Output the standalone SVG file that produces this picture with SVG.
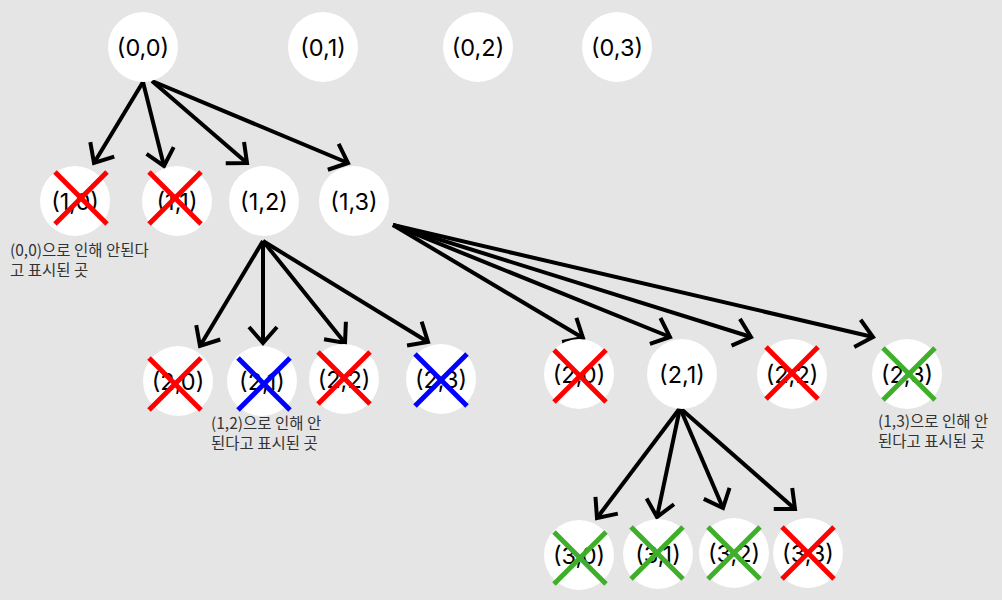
<svg xmlns="http://www.w3.org/2000/svg" width="1002" height="600" viewBox="0 0 1002 600">
<style>
.node circle{fill:#fff}
.node text{font-family:Inter,"Noto Sans","Noto Sans CJK KR",sans-serif;font-size:23.5px;fill:#000;text-anchor:middle;dominant-baseline:central}
.x line{stroke-width:5;stroke-linecap:butt}
.red line{stroke:#ff0000}
.blue line{stroke:#0000ff}
.green line{stroke:#3fae2a}
.edges line{stroke:#000;stroke-width:4;marker-end:url(#arr)}
.note{font-family:"Noto Sans CJK KR","Noto Sans",sans-serif;font-size:15.5px;fill:#333}
</style>
<defs>
<marker id="arr" markerUnits="userSpaceOnUse" viewBox="-22 -22 44 44" markerWidth="44" markerHeight="44" refX="0" refY="0" orient="auto" overflow="visible">
<path d="M-16,-14 L0,0 L-16,14" fill="none" stroke="#000" stroke-width="4" stroke-linejoin="miter"/>
</marker>
</defs>
<rect width="1002" height="600" fill="#e5e5e5"/>

<g class="edges" id="connectors">
<line x1="143" y1="82" x2="94" y2="163"/>
<line x1="143" y1="82" x2="164" y2="166"/>
<line x1="152" y1="81" x2="247" y2="163"/>
<line x1="152" y1="81" x2="348" y2="163"/>
<line x1="263" y1="241" x2="200" y2="346"/>
<line x1="263" y1="241" x2="263" y2="343"/>
<line x1="263" y1="241" x2="345" y2="343"/>
<line x1="263" y1="241" x2="428" y2="342"/>
<line x1="393" y1="225" x2="583" y2="338"/>
<line x1="393" y1="225" x2="670" y2="337"/>
<line x1="393" y1="225" x2="751" y2="337"/>
<line x1="393" y1="225" x2="873" y2="337"/>
<line x1="680" y1="408" x2="597" y2="518"/>
<line x1="680" y1="408" x2="657" y2="517"/>
<line x1="680" y1="408" x2="723" y2="508"/>
<line x1="680" y1="408" x2="795" y2="509"/>
</g>

<g class="node" id="n00"><circle cx="143" cy="47" r="35"/><text x="143" y="47">(0,0)</text></g>
<g class="node" id="n01"><circle cx="323" cy="47" r="35"/><text x="323" y="47">(0,1)</text></g>
<g class="node" id="n02"><circle cx="478" cy="47" r="35"/><text x="478" y="47">(0,2)</text></g>
<g class="node" id="n03"><circle cx="617" cy="47" r="35"/><text x="617" y="47">(0,3)</text></g>

<g class="node" id="n10"><circle cx="75" cy="201" r="35"/><text x="75" y="201">(1,0)</text>
<g class="x red"><line x1="55" y1="172" x2="107" y2="224"/><line x1="107" y1="172" x2="55" y2="224"/></g></g>
<g class="node" id="n11"><circle cx="177" cy="201" r="35"/><text x="177" y="201">(1,1)</text>
<g class="x red"><line x1="149" y1="172" x2="201" y2="224"/><line x1="201" y1="172" x2="149" y2="224"/></g></g>
<g class="node" id="n12"><circle cx="264" cy="201" r="35"/><text x="264" y="201">(1,2)</text></g>
<g class="node" id="n13"><circle cx="354" cy="201" r="35"/><text x="354" y="201">(1,3)</text></g>

<g class="node" id="n12_20"><circle cx="178" cy="381" r="35"/><text x="178" y="381">(2,0)</text>
<g class="x red"><line x1="149" y1="358" x2="201" y2="410"/><line x1="201" y1="358" x2="149" y2="410"/></g></g>
<g class="node" id="n12_21"><circle cx="262" cy="381" r="35"/><text x="262" y="381">(2,1)</text>
<g class="x blue"><line x1="238" y1="358" x2="290" y2="410"/><line x1="290" y1="358" x2="238" y2="410"/></g></g>
<g class="node" id="n12_22"><circle cx="344" cy="379" r="35"/><text x="344" y="379">(2,2)</text>
<g class="x red"><line x1="318" y1="352" x2="370" y2="404"/><line x1="370" y1="352" x2="318" y2="404"/></g></g>
<g class="node" id="n12_23"><circle cx="441" cy="379" r="35"/><text x="441" y="379">(2,3)</text>
<g class="x blue"><line x1="415" y1="354" x2="467" y2="406"/><line x1="467" y1="354" x2="415" y2="406"/></g></g>

<g class="node" id="n13_20"><circle cx="579" cy="374" r="35"/><text x="579" y="374">(2,0)</text>
<g class="x red"><line x1="554" y1="350" x2="606" y2="402"/><line x1="606" y1="350" x2="554" y2="402"/></g></g>
<g class="node" id="n13_21"><circle cx="682" cy="374" r="35"/><text x="682" y="374">(2,1)</text></g>
<g class="node" id="n13_22"><circle cx="792" cy="374" r="35"/><text x="792" y="374">(2,2)</text>
<g class="x red"><line x1="766" y1="347" x2="818" y2="399"/><line x1="818" y1="347" x2="766" y2="399"/></g></g>
<g class="node" id="n13_23"><circle cx="907" cy="374" r="35"/><text x="907" y="374">(2,3)</text>
<g class="x green"><line x1="883" y1="348" x2="935" y2="400"/><line x1="935" y1="348" x2="883" y2="400"/></g></g>

<g class="node" id="n30"><circle cx="579" cy="555" r="35"/><text x="579" y="555">(3,0)</text>
<g class="x green"><line x1="554" y1="532" x2="606" y2="584"/><line x1="606" y1="532" x2="554" y2="584"/></g></g>
<g class="node" id="n31"><circle cx="658" cy="554" r="35"/><text x="658" y="554">(3,1)</text>
<g class="x green"><line x1="631" y1="527" x2="683" y2="579"/><line x1="683" y1="527" x2="631" y2="579"/></g></g>
<g class="node" id="n32"><circle cx="734" cy="553" r="35"/><text x="734" y="553">(3,2)</text>
<g class="x green"><line x1="708" y1="527" x2="760" y2="579"/><line x1="760" y1="527" x2="708" y2="579"/></g></g>
<g class="node" id="n33"><circle cx="808" cy="553" r="35"/><text x="808" y="553">(3,3)</text>
<g class="x red"><line x1="782" y1="527" x2="834" y2="579"/><line x1="834" y1="527" x2="782" y2="579"/></g></g>

<g id="notes">
<text class="note" x="10" y="256"><tspan x="10">(0,0)으로 인해 안된다</tspan><tspan x="10" dy="20">고 표시된 곳</tspan></text>
<text class="note" x="211" y="429"><tspan x="211">(1,2)으로 인해 안</tspan><tspan x="211" dy="20">된다고 표시된 곳</tspan></text>
<text class="note" x="878" y="427"><tspan x="878">(1,3)으로 인해 안</tspan><tspan x="878" dy="20">된다고 표시된 곳</tspan></text>
</g>
</svg>
